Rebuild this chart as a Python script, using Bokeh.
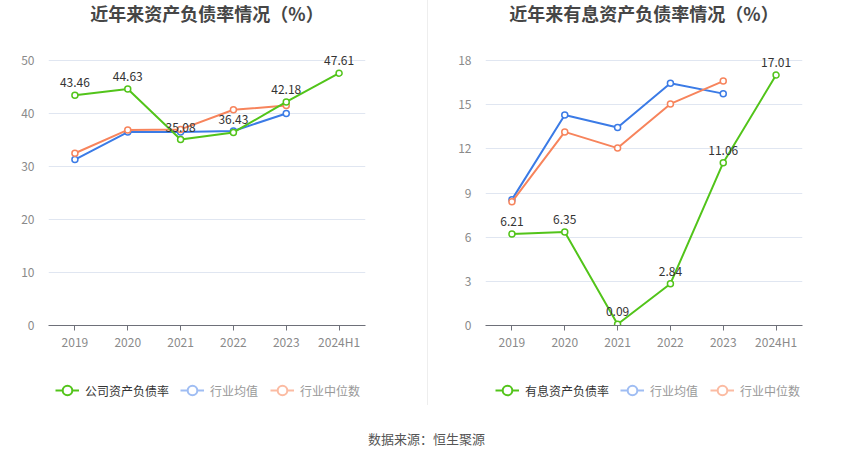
from bokeh.plotting import figure
from bokeh.models import (FactorRange, Range1d, FixedTicker, ColumnDataSource, LabelSet,
                          Label, Legend, LegendItem, Div)
from bokeh.layouts import row, column
from bokeh.core.properties import value
from bokeh.embed import file_html
from bokeh.resources import INLINE

years = ["2019", "2020", "2021", "2022", "2023", "2024H1"]
ind_years = ["2019", "2020", "2021", "2022", "2023"]

# Chart 1: asset-liability ratio (%)
debt_company = [43.46, 44.63, 35.08, 36.43, 42.18, 47.61]
debt_ind_mean = [31.3, 36.5, 36.5, 36.7, 40.0]
debt_ind_median = [32.5, 36.9, 37.0, 40.7, 41.5]

# Chart 2: interest-bearing debt ratio (%)
ib_company = [6.21, 6.35, 0.09, 2.84, 11.06, 17.01]
ib_ind_mean = [8.55, 14.3, 13.45, 16.45, 15.75]
ib_ind_median = [8.4, 13.15, 12.05, 15.05, 16.6]

titles = ["近年来资产负债率情况（%）", "近年来有息资产负债率情况（%）"]
company_names = ["公司资产负债率", "有息资产负债率"]
ind_names = ["行业均值", "行业中位数"]
source_text = "数据来源：恒生聚源"

GREEN = "#52c41a"
BLUE = "#3b7be6"
ORANGE = "#f7845c"
BLUE_F = "#9fbdf3"
ORANGE_F = "#fbbba2"
FONT = "Noto Sans CJK SC"

FRAME_H = 325.0     # px from top of figure to x axis
GRID_H = 265.0      # px between 0 and top tick
NAN = float("nan")


def make_chart(title, comp, mean, median, ymax, ystep, width, bl, br):
    ytop = ymax * FRAME_H / GRID_H
    p = figure(x_range=FactorRange(factors=years), y_range=Range1d(0, ytop),
               width=width, height=355, output_backend="svg", toolbar_location=None,
               min_border_left=bl, min_border_right=br, min_border_top=0, min_border_bottom=30)
    p.outline_line_color = None
    p.xgrid.grid_line_color = None
    p.ygrid.grid_line_color = "#e0e6f1"
    p.yaxis.ticker = FixedTicker(ticks=list(range(0, ymax + 1, ystep)))
    p.yaxis.axis_line_color = None
    p.yaxis.major_tick_line_color = None
    p.yaxis.minor_tick_line_color = None
    p.yaxis.major_label_standoff = 8
    p.xaxis.axis_line_color = "#6e7079"
    p.xaxis.major_tick_line_color = "#6e7079"
    p.xaxis.major_tick_out = 5
    p.xaxis.major_tick_in = 0
    p.xaxis.major_label_standoff = 2
    for ax in (p.xaxis, p.yaxis):
        ax.major_label_text_font = FONT
        ax.major_label_text_font_size = "12px"
        ax.major_label_text_color = "#8a8a8a"

    p.line(ind_years, mean, line_color=BLUE, line_width=2)
    p.scatter(ind_years, mean, size=6, marker="circle", fill_color="white", line_color=BLUE, line_width=1.5)
    p.line(ind_years, median, line_color=ORANGE, line_width=2)
    p.scatter(ind_years, median, size=6, marker="circle", fill_color="white", line_color=ORANGE, line_width=1.5)
    p.line(years, comp, line_color=GREEN, line_width=2)
    p.scatter(years, comp, size=6, marker="circle", fill_color="white", line_color=GREEN, line_width=1.5)

    src = ColumnDataSource(dict(x=years, y=comp, t=["%.2f" % v for v in comp]))
    p.add_layout(LabelSet(x="x", y="y", text="t", source=src, y_offset=8,
                          text_align="center", text_baseline="bottom",
                          text_font=value(FONT), text_font_size=value("12px"),
                          text_color=value("#333333")))

    # title
    px_per_unit = GRID_H / ymax
    p.add_layout(Label(x=3, y=(FRAME_H - 12) / px_per_unit, text=title, text_align="center",
                       text_baseline="middle", text_font=FONT, text_font_size="18px",
                       text_font_style="bold", text_color="#464646"))
    return p


def make_legend_fig(width, comp_name, x1, x2):
    f = figure(width=width, height=50, x_range=Range1d(0, width), y_range=Range1d(0, 50),
               output_backend="svg", toolbar_location=None,
               min_border_left=0, min_border_right=0, min_border_top=0, min_border_bottom=0)
    f.axis.visible = False
    f.grid.visible = False
    f.outline_line_color = None
    proxy = dict(x=[NAN], y=[NAN])
    gl = f.line(proxy["x"], proxy["y"], line_color=GREEN, line_width=2)
    gs = f.scatter(proxy["x"], proxy["y"], size=10, marker="circle", fill_color="white", line_color=GREEN, line_width=2)
    bl_ = f.line(proxy["x"], proxy["y"], line_color=BLUE_F, line_width=2)
    bs = f.scatter(proxy["x"], proxy["y"], size=10, marker="circle", fill_color="white", line_color=BLUE_F, line_width=2)
    ol = f.line(proxy["x"], proxy["y"], line_color=ORANGE_F, line_width=2)
    os_ = f.scatter(proxy["x"], proxy["y"], size=10, marker="circle", fill_color="white", line_color=ORANGE_F, line_width=2)
    leg1 = Legend(items=[LegendItem(label=comp_name, renderers=[gl, gs])],
                  location=(x1, 2), orientation="horizontal")
    leg2 = Legend(items=[LegendItem(label=ind_names[0], renderers=[bl_, bs]),
                         LegendItem(label=ind_names[1], renderers=[ol, os_])],
                  location=(x2, 2), orientation="horizontal")
    for lg, col in ((leg1, "#333333"), (leg2, "#999999")):
        lg.label_text_font = FONT
        lg.label_text_font_size = "12px"
        lg.label_text_color = col
        lg.glyph_width = 24
        lg.glyph_height = 26
        lg.label_height = 14
        lg.label_standoff = 6
        lg.spacing = 12
        lg.padding = 0
        lg.margin = 0
        lg.border_line_color = None
        lg.background_fill_alpha = 0
        f.add_layout(lg, "center")
    return f


p1 = make_chart(titles[0], debt_company, debt_ind_mean, debt_ind_median, 50, 10, 427, 48, 62)
p2 = make_chart(titles[1], ib_company, ib_ind_mean, ib_ind_median, 18, 3, 420, 57, 46)
l1 = make_legend_fig(427, company_names[0], 55, 180)
l2 = make_legend_fig(420, company_names[1], 67, 192)

div_top = Div(width=1, height=355, margin=0, styles={"background-color": "#eeeeee"})
div_bot = Div(width=1, height=50, margin=0, styles={"background-color": "#eeeeee"})

p3 = figure(width=848, height=52, x_range=Range1d(0, 848), y_range=Range1d(0, 52),
            output_backend="svg", toolbar_location=None,
            min_border_left=0, min_border_right=0, min_border_top=0, min_border_bottom=0)
p3.axis.visible = False
p3.grid.visible = False
p3.outline_line_color = None
p3.add_layout(Label(x=426, y=19, text=source_text, text_align="center", text_baseline="middle",
                    text_font=FONT, text_font_size="13px", text_color="#555555"))

layout = column(row(p1, div_top, p2, spacing=0),
                row(l1, div_bot, l2, spacing=0),
                p3, spacing=0)

open("out.html", "w").write(file_html(layout, INLINE))
